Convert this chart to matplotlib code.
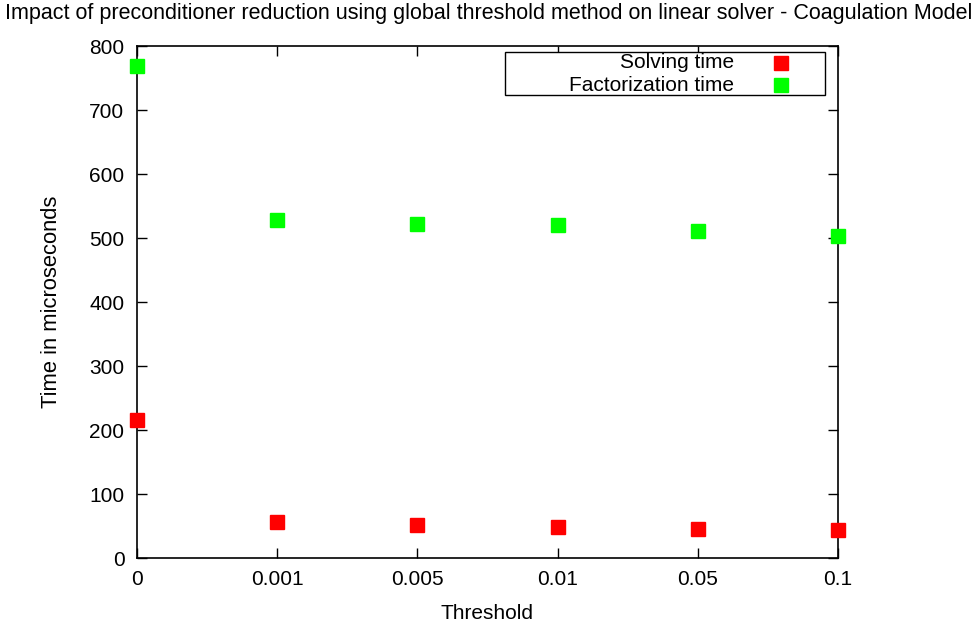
import numpy as np
import matplotlib.pyplot as plt
from matplotlib.patches import Rectangle

plt.rcParams["font.family"] = ["Liberation Sans", "DejaVu Sans"]
plt.rcParams["font.size"] = 15

# ---------------------------------------------------------------------
# Data
# ---------------------------------------------------------------------
thresholds = ["0", "0.001", "0.005", "0.01", "0.05", "0.1"]
solving_time = [215, 56, 52, 49, 45, 44]
factorization_time = [768, 528, 522, 520, 511, 503]
series_names = ["Solving time", "Factorization time"]
series_colors = ["#ff0000", "#00ff00"]

x = np.arange(len(thresholds))

fig = plt.figure(figsize=(9.77, 6.26), dpi=100)
ax = fig.add_axes([137 / 977, 68 / 626, 701 / 977, 512 / 626])

for values, color in zip([solving_time, factorization_time], series_colors):
    ax.plot(x, values, linestyle="none", marker="s", markersize=10,
            color=color, clip_on=False, zorder=3)

ax.set_xlim(0, len(thresholds) - 1)
ax.set_ylim(0, 800)
ax.set_xticks(x)
ax.set_xticklabels(thresholds)
ax.set_yticks(np.arange(0, 801, 100))

ax.tick_params(direction="in", length=7, width=1, top=True, right=True,
               colors="black")
ax.tick_params(axis="x", pad=8.5)
ax.tick_params(axis="y", pad=9)
for side in ax.spines.values():
    side.set_linewidth(1.2)

ax.set_xlabel("Threshold", labelpad=11)
ax.set_ylabel("Time in microseconds", labelpad=20, fontsize=15.8)
fig.text(0.5, 0.979, "Impact of preconditioner reduction using global threshold method on linear solver - Coagulation Model",
         ha="center", va="center", fontsize=15.5)

# gnuplot-style key: text right-aligned, marker on the right
ax.add_patch(Rectangle((0.525, 0.9043), 0.4565, 0.084, transform=ax.transAxes,
                       fill=True, facecolor="white", edgecolor="black",
                       linewidth=1, zorder=4, clip_on=False))
row_y = [0.9668, 0.9238]
for name, color, yy in zip(series_names, series_colors, row_y):
    ax.text(0.8516, yy, name, transform=ax.transAxes, ha="right", va="center",
            fontsize=15, zorder=5)
    ax.plot([0.9187], [yy], transform=ax.transAxes, linestyle="none",
            marker="s", markersize=10, color=color, zorder=5, clip_on=False)

fig.savefig("out.png", dpi=100)
